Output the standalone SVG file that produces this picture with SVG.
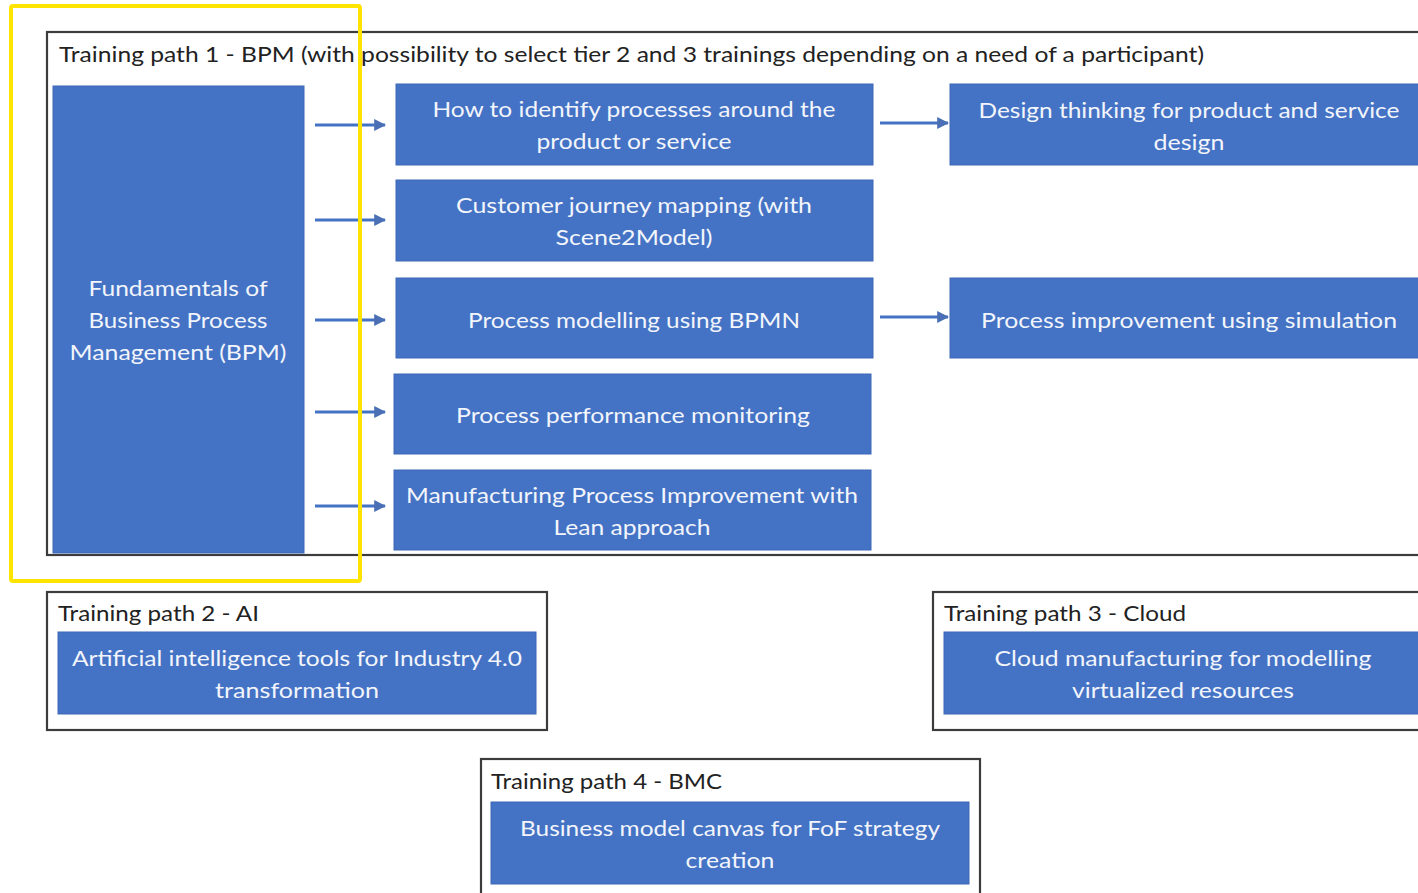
<svg xmlns="http://www.w3.org/2000/svg" width="1418" height="893" viewBox="0 0 1418 893">
  <defs>
    <marker id="arrowHead" viewBox="0 0 10 10" refX="9" refY="5" markerWidth="4" markerHeight="4" orient="auto" markerUnits="strokeWidth">
      <path d="M0,0 L10,5 L0,10 z" fill="#4a6fb5"/>
    </marker>
    <style>
      .frame { fill: #ffffff; stroke: #3c3c3c; stroke-width: 2.2; }
      .box { fill: #4472c4; stroke: #3f68b4; stroke-width: 1; }
      .title { font-family: Lato, "Liberation Sans", sans-serif; font-size: 22px; fill: #222222; }
      .label { font-family: Lato, "Liberation Sans", sans-serif; font-size: 22px; fill: #f2f5fb; text-anchor: middle; }
      .link { stroke: #4472c4; stroke-width: 3; fill: none; marker-end: url(#arrowHead); }
      .highlight { fill: none; stroke: #ffe400; stroke-width: 4; }
    </style>
  </defs>
  <rect width="1418" height="893" fill="#ffffff"/>

  <!-- Training path 1 frame -->
  <g id="path1">
    <rect class="frame" x="47" y="32" width="1380" height="523"/>
    <text class="title" x="59" y="62" textLength="1145" lengthAdjust="spacingAndGlyphs">Training path 1 - BPM (with possibility to select tier 2 and 3 trainings depending on a need of a participant)</text>
  </g>

  <g id="fundamentals">
    <rect class="box" x="53" y="86" width="251" height="467"/>
    <text class="label" x="178" y="296" textLength="179" lengthAdjust="spacingAndGlyphs">Fundamentals of</text>
    <text class="label" x="178" y="328" textLength="179" lengthAdjust="spacingAndGlyphs">Business Process</text>
    <text class="label" x="178" y="360" textLength="217" lengthAdjust="spacingAndGlyphs">Management (BPM)</text>
  </g>

  <g id="identify-processes">
    <rect class="box" x="396" y="84" width="477" height="81"/>
    <text class="label" x="634" y="117" textLength="403" lengthAdjust="spacingAndGlyphs">How to identify processes around the</text>
    <text class="label" x="634" y="149" textLength="195" lengthAdjust="spacingAndGlyphs">product or service</text>
  </g>

  <g id="customer-journey">
    <rect class="box" x="396" y="180" width="477" height="81"/>
    <text class="label" x="634" y="213" textLength="356" lengthAdjust="spacingAndGlyphs">Customer journey mapping (with</text>
    <text class="label" x="634" y="245" textLength="157" lengthAdjust="spacingAndGlyphs">Scene2Model)</text>
  </g>

  <g id="process-modelling">
    <rect class="box" x="396" y="278" width="477" height="80"/>
    <text class="label" x="634" y="328" textLength="332" lengthAdjust="spacingAndGlyphs">Process modelling using BPMN</text>
  </g>

  <g id="performance-monitoring">
    <rect class="box" x="394" y="374" width="477" height="80"/>
    <text class="label" x="633" y="423" textLength="354" lengthAdjust="spacingAndGlyphs">Process performance monitoring</text>
  </g>

  <g id="lean-manufacturing">
    <rect class="box" x="394" y="470" width="477" height="80"/>
    <text class="label" x="632" y="503" textLength="452" lengthAdjust="spacingAndGlyphs">Manufacturing Process Improvement with</text>
    <text class="label" x="632" y="535" textLength="157" lengthAdjust="spacingAndGlyphs">Lean approach</text>
  </g>

  <g id="design-thinking">
    <rect class="box" x="950" y="84" width="480" height="81"/>
    <text class="label" x="1189" y="118" textLength="421" lengthAdjust="spacingAndGlyphs">Design thinking for product and service</text>
    <text class="label" x="1189" y="150" textLength="71" lengthAdjust="spacingAndGlyphs">design</text>
  </g>

  <g id="simulation">
    <rect class="box" x="950" y="278" width="480" height="80"/>
    <text class="label" x="1189" y="328" textLength="416" lengthAdjust="spacingAndGlyphs">Process improvement using simulation</text>
  </g>

  <!-- Training path 2 -->
  <g id="path2">
    <rect class="frame" x="47" y="592" width="500" height="138"/>
    <text class="title" x="58" y="621" textLength="201" lengthAdjust="spacingAndGlyphs">Training path 2 - AI</text>
  </g>
  <g id="ai-tools">
    <rect class="box" x="58" y="632" width="478" height="82"/>
    <text class="label" x="297" y="666" textLength="450" lengthAdjust="spacingAndGlyphs">Artificial intelligence tools for Industry 4.0</text>
    <text class="label" x="297" y="698" textLength="164" lengthAdjust="spacingAndGlyphs">transformation</text>
  </g>

  <!-- Training path 3 -->
  <g id="path3">
    <rect class="frame" x="933" y="592" width="500" height="138"/>
    <text class="title" x="944" y="621" textLength="242" lengthAdjust="spacingAndGlyphs">Training path 3 - Cloud</text>
  </g>
  <g id="cloud-manufacturing">
    <rect class="box" x="944" y="632" width="480" height="82"/>
    <text class="label" x="1183" y="666" textLength="377" lengthAdjust="spacingAndGlyphs">Cloud manufacturing for modelling</text>
    <text class="label" x="1183" y="698" textLength="222" lengthAdjust="spacingAndGlyphs">virtualized resources</text>
  </g>

  <!-- Training path 4 -->
  <g id="path4">
    <rect class="frame" x="481" y="759" width="499" height="150"/>
    <text class="title" x="491" y="789" textLength="231" lengthAdjust="spacingAndGlyphs">Training path 4 - BMC</text>
  </g>
  <g id="bmc">
    <rect class="box" x="491" y="802" width="478" height="82"/>
    <text class="label" x="730" y="836" textLength="420" lengthAdjust="spacingAndGlyphs">Business model canvas for FoF strategy</text>
    <text class="label" x="730" y="868" textLength="89" lengthAdjust="spacingAndGlyphs">creation</text>
  </g>

  <!-- connectors -->
  <g id="connectors">
    <line class="link" x1="315" y1="125" x2="385" y2="125"/>
    <line class="link" x1="315" y1="220" x2="385" y2="220"/>
    <line class="link" x1="315" y1="320" x2="385" y2="320"/>
    <line class="link" x1="315" y1="412" x2="385" y2="412"/>
    <line class="link" x1="315" y1="506" x2="385" y2="506"/>
    <line class="link" x1="880" y1="123" x2="948" y2="123"/>
    <line class="link" x1="880" y1="317" x2="948" y2="317"/>
  </g>

  <!-- yellow highlight frame -->
  <rect class="highlight" x="11" y="6" width="349" height="575" rx="2"/>
</svg>
